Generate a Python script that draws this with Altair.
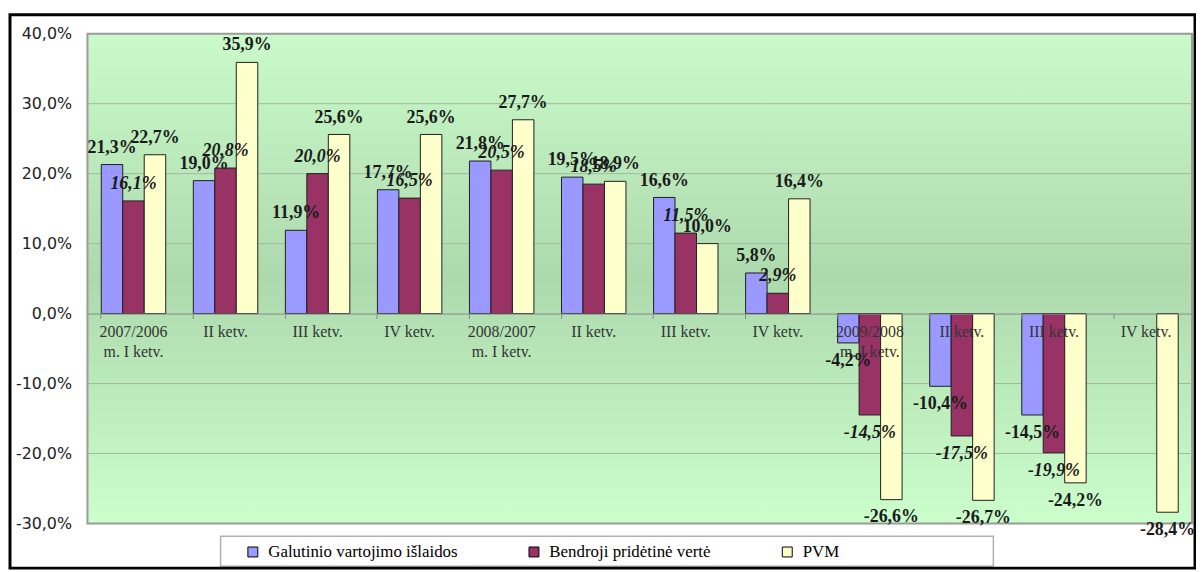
import altair as alt
import pandas as pd

keys = ["2007 I", "2007 II", "2007 III", "2007 IV", "2008 I", "2008 II",
        "2008 III", "2008 IV", "2009 I", "2009 II", "2009 III", "2009 IV"]
cat_labels = ["2007/2006\nm. I ketv.", "II ketv.", "III ketv.", "IV ketv.",
              "2008/2007\nm. I ketv.", "II ketv.", "III ketv.", "IV ketv.",
              "2009/2008\nm. I ketv.", "II ketv.", "III ketv.", "IV ketv."]
series = ["Galutinio vartojimo išlaidos", "Bendroji pridėtinė vertė", "PVM"]
galutinio = [21.3, 19.0, 11.9, 17.7, 21.8, 19.5, 16.6, 5.8, -4.2, -10.4, -14.5, None]
bendroji = [16.1, 20.8, 20.0, 16.5, 20.5, 18.5, 11.5, 2.9, -14.5, -17.5, -19.9, None]
pvm = [22.7, 35.9, 25.6, 25.6, 27.7, 18.9, 10.0, 16.4, -26.6, -26.7, -24.2, -28.4]
colors = ["#9999FF", "#993366", "#FFFFCC"]
y_ticks = [-30, -20, -10, 0, 10, 20, 30, 40]
grid_vals = [-20, -10, 10, 20, 30]

rows = []
for s, vals in zip(series, [galutinio, bendroji, pvm]):
    for k, v in zip(keys, vals):
        if v is None:
            continue
        rows.append({"key": k, "series": s, "value": v,
                     "label": f"{v:.1f}".replace(".", ",") + "%"})
df = pd.DataFrame(rows)
cats = pd.DataFrame({"key": keys, "label": cat_labels})

W, H = 1112, 493
SERIF = "Liberation Serif"

x_enc = alt.X("key:N", sort=keys,
              scale=alt.Scale(paddingInner=0.3, paddingOuter=0.15),
              axis=alt.Axis(title=None, labels=False, offset=-H * 30 / 70,
                            domainColor="#888888", tickColor="#888888",
                            tickSize=5, bandPosition=0, zindex=1))
xoff = alt.XOffset("series:N", sort=series,
                   scale=alt.Scale(paddingInner=0, paddingOuter=0))
y_enc = alt.Y("value:Q", scale=alt.Scale(domain=[-30, 40], nice=False),
              axis=alt.Axis(title=None, values=y_ticks, grid=False, domain=False,
                            ticks=False, labelFont="DejaVu Sans", labelFontSize=16,
                            labelColor="#222222", labelPadding=16,
                            labelExpr="replace(replace(format(datum.value, '.1f'), '.', ','), '\u2212', '-') + '%'"))

bg = alt.Chart(pd.DataFrame({"a": [0]})).mark_rect(
    color=alt.Gradient(gradient="linear", x1=0, x2=0, y1=0, y2=1,
                       stops=[alt.GradientStop(offset=0, color="#CAFACA"),
                              alt.GradientStop(offset=0.5, color="#ADDAAD"),
                              alt.GradientStop(offset=1, color="#CCFECC")]),
    stroke="#9A9A9A", strokeWidth=2
).encode(x=alt.value(0), x2=alt.value(W), y=alt.value(0), y2=alt.value(H))

grid = alt.Chart(pd.DataFrame({"v": grid_vals})).mark_rule(
    color="#9DBA9D", strokeWidth=1
).encode(y=alt.Y("v:Q"))

bars = alt.Chart(df).mark_bar(stroke="#1f1f1f", strokeWidth=1).encode(
    x=x_enc, xOffset=xoff, y=y_enc,
    color=alt.Color("series:N", sort=series,
                    scale=alt.Scale(domain=series, range=colors),
                    legend=alt.Legend(title=None, orient="none", direction="horizontal",
                                      legendX=158, legendY=513, symbolType="square",
                                      symbolSize=100, symbolStrokeColor="#000000",
                                      symbolStrokeWidth=1, labelFont=SERIF,
                                      labelFontSize=17, labelColor="#000000",
                                      labelOffset=7, columnPadding=68, padding=0,
                                      labelLimit=400))
)


def labels(cond, italic, dy):
    kw = dict(font=SERIF, fontSize=18, fontWeight="bold", color="#1a1a1a",
              baseline="middle", dy=dy)
    if italic:
        kw["fontStyle"] = "italic"
    return alt.Chart(df).transform_filter(cond).mark_text(**kw).encode(
        x=alt.X("key:N", sort=keys), xOffset=xoff, y=alt.Y("value:Q"), text="label:N")


is_b = "datum.series == 'Bendroji pridėtinė vertė'"
t1 = labels(f"datum.value >= 0 && !({is_b})", False, -17)
t2 = labels(f"datum.value >= 0 && {is_b}", True, -17)
t3 = labels(f"datum.value < 0 && !({is_b})", False, 18)
t4 = labels(f"datum.value < 0 && {is_b}", True, 18)

cat_text = alt.Chart(cats).mark_text(
    font=SERIF, fontSize=16, color="#333333", baseline="top", dy=11,
    lineBreak="\n", lineHeight=20
).encode(x=alt.X("key:N", sort=keys), y=alt.datum(0), text="label:N")

frame = alt.Chart(pd.DataFrame({"a": [0]})).mark_rect(
    fillOpacity=0, stroke="#000000", strokeWidth=3
).encode(x=alt.value(-78), x2=alt.value(W + 3), y=alt.value(-19), y2=alt.value(H + 45))

legend_box = alt.Chart(pd.DataFrame({"a": [0]})).mark_rect(
    fill="#ffffff", stroke="#b0b0b0", strokeWidth=1.5
).encode(x=alt.value(134), x2=alt.value(912), y=alt.value(506), y2=alt.value(536))

chart = alt.layer(bg, grid, bars, cat_text, t1, t2, t3, t4, legend_box, frame).properties(
    width=W, height=H,
    autosize=alt.AutoSizeParams(type="none"),
    padding={"left": 80, "top": 24, "right": 4, "bottom": 46},
    background="#ffffff"
).configure_view(stroke=None)

chart.save("out.html", embed_options={"renderer": "svg", "actions": False})
